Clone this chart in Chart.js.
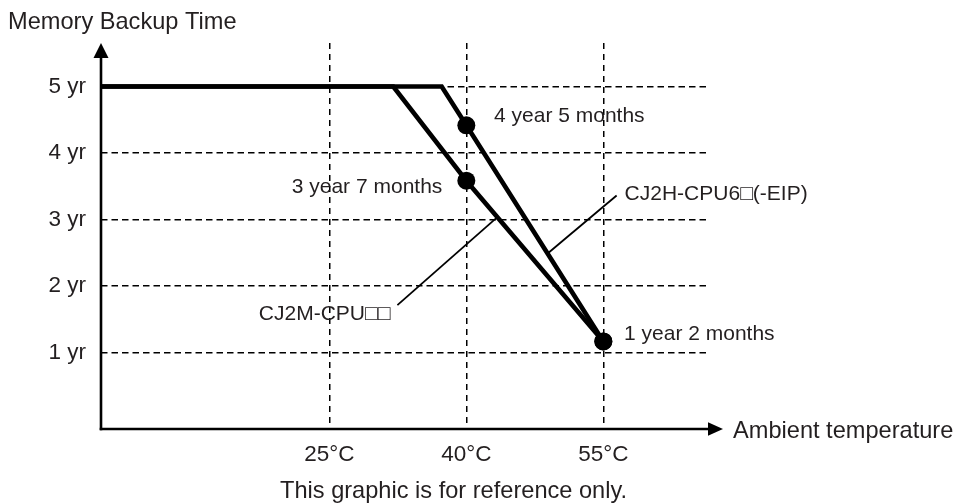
<!DOCTYPE html>
<html><head><meta charset="utf-8">
<script src="https://cdn.jsdelivr.net/npm/chart.js@4/dist/chart.umd.min.js"></script>
<style>html,body{margin:0;padding:0;background:#fff;}canvas{display:block;}</style>
</head><body>
<canvas id="c" width="958" height="504"></canvas>
<script>
// ---- data ----
const temperatureTicks = [25, 40, 55];           // °C
const yearTicks = [1, 2, 3, 4, 5];               // years
const cj2hTemps = [0, 37.3, 40, 55];
const cj2hYears = [5, 5, 4.417, 1.167];          // 4 yr 5 mo @40, 1 yr 2 mo @55
const cj2mTemps = [0, 32, 40, 55];
const cj2mYears = [5, 5, 3.583, 1.167];          // 3 yr 7 mo @40, 1 yr 2 mo @55
const seriesNames = ['CJ2H-CPU6\u25A1(-EIP)', 'CJ2M-CPU\u25A1\u25A1'];
const pointNotes = ['4 year 5 months', '3 year 7 months', '1 year 2 months'];
const yTitle = 'Memory Backup Time';
const xTitle = 'Ambient temperature';
const footNote = 'This graphic is for reference only.';

const FONT = '"Liberation Sans", Arial, Helvetica, sans-serif';
const TEXT = '#231f20';

function valueAt(temps, years, t) {
  for (let i = 1; i < temps.length; i++) {
    if (t <= temps[i]) {
      const f = (t - temps[i - 1]) / (temps[i] - temps[i - 1]);
      return years[i - 1] + f * (years[i] - years[i - 1]);
    }
  }
  return years[years.length - 1];
}

const decor = {
  id: 'decor',
  afterDraw(chart) {
    const { ctx, chartArea: a, scales: { x, y } } = chart;
    ctx.save();
    ctx.fillStyle = '#000';
    ctx.strokeStyle = '#000';
    // axes with arrowheads
    ctx.lineWidth = 2.6;
    ctx.beginPath(); ctx.moveTo(a.left, a.bottom + 1.3); ctx.lineTo(a.left, a.top + 14); ctx.stroke();
    ctx.beginPath(); ctx.moveTo(a.left - 1.3, a.bottom); ctx.lineTo(a.right, a.bottom); ctx.stroke();
    ctx.beginPath(); ctx.moveTo(a.left, a.top); ctx.lineTo(a.left - 7.5, a.top + 15); ctx.lineTo(a.left + 7.5, a.top + 15); ctx.closePath(); ctx.fill();
    ctx.beginPath(); ctx.moveTo(a.right + 13, a.bottom); ctx.lineTo(a.right - 2, a.bottom - 6.7); ctx.lineTo(a.right - 2, a.bottom + 6.7); ctx.closePath(); ctx.fill();

    // leader lines
    ctx.lineWidth = 1.8;
    const hT = 48.9;
    const hS = { x: x.getPixelForValue(hT), y: y.getPixelForValue(valueAt(cj2hTemps, cj2hYears, hT)) };
    const hE = { x: hS.x + 69, y: hS.y - 58 };
    const mT = 43.4;
    const mS = { x: x.getPixelForValue(mT), y: y.getPixelForValue(valueAt(cj2mTemps, cj2mYears, mT)) };
    const mE = { x: mS.x - 100, y: mS.y + 88 };
    ctx.beginPath(); ctx.moveTo(hS.x, hS.y); ctx.lineTo(hE.x, hE.y); ctx.stroke();
    ctx.beginPath(); ctx.moveTo(mS.x, mS.y); ctx.lineTo(mE.x, mE.y); ctx.stroke();

    ctx.fillStyle = TEXT;
    ctx.textBaseline = 'alphabetic';
    ctx.font = '21px ' + FONT;
    ctx.textAlign = 'left';
    ctx.fillText(seriesNames[0], hE.x + 8, hE.y + 4.7);
    ctx.textAlign = 'right';
    ctx.fillText(seriesNames[1], mE.x - 7, mE.y + 14.7);

    const p0 = chart.getDatasetMeta(0).data[2];
    const p1 = chart.getDatasetMeta(1).data[2];
    const p2 = chart.getDatasetMeta(0).data[3];
    ctx.textAlign = 'left';
    ctx.fillText(pointNotes[0], p0.x + 27.7, p0.y - 3.5);
    ctx.textAlign = 'right';
    ctx.fillText(pointNotes[1], p1.x - 24, p1.y + 12);
    ctx.textAlign = 'left';
    ctx.fillText(pointNotes[2], p2.x + 20.7, p2.y - 1);

    ctx.font = '23.6px ' + FONT;
    ctx.textAlign = 'left';
    ctx.fillText(yTitle, 8, 28.5);
    ctx.fillText(xTitle, a.right + 23, a.bottom + 8.5);
    ctx.fillText(footNote, 280, 498);
    ctx.restore();
  }
};

const lineStyle = {
  borderColor: '#000', backgroundColor: '#000', borderWidth: 4.6,
  pointRadius: [0, 0, 9, 9], pointHoverRadius: [0, 0, 9, 9], pointBorderWidth: 0,
  tension: 0, fill: false
};

new Chart(document.getElementById('c'), {
  type: 'line',
  data: {
    datasets: [
      Object.assign({ label: seriesNames[0], data: cj2hTemps.map((t, i) => ({ x: t, y: cj2hYears[i] })) }, lineStyle),
      Object.assign({ label: seriesNames[1], data: cj2mTemps.map((t, i) => ({ x: t, y: cj2mYears[i] })) }, lineStyle)
    ]
  },
  options: {
    responsive: false, animation: false, devicePixelRatio: 1,
    layout: { padding: { left: 0, top: 43, right: 248, bottom: 0 } },
    plugins: { legend: { display: false }, tooltip: { enabled: false }, title: { display: false } },
    scales: {
      x: {
        type: 'linear', min: 0, max: 66.68,
        afterFit(s) { s.height = 75; },
        afterBuildTicks(s) { s.ticks = temperatureTicks.map(v => ({ value: v })); },
        grid: { color: '#000', lineWidth: 1.5, drawTicks: false },
        border: { display: false, dash: [6, 5] },
        ticks: { padding: 12, color: TEXT, autoSkip: false, maxRotation: 0, font: { family: FONT, size: 22.5 }, callback: v => v + '\u00B0C' }
      },
      y: {
        type: 'linear', min: -0.15, max: 5.654,
        afterFit(s) { s.width = 101; },
        afterBuildTicks(s) { s.ticks = yearTicks.map(v => ({ value: v })); },
        grid: { color: '#000', lineWidth: 1.5, drawTicks: false },
        border: { display: false, dash: [6.5, 4] },
        ticks: { padding: 15, color: TEXT, autoSkip: false, font: { family: FONT, size: 22.5 }, callback: v => v + ' yr' }
      }
    }
  },
  plugins: [decor]
});
</script>
</body></html>
